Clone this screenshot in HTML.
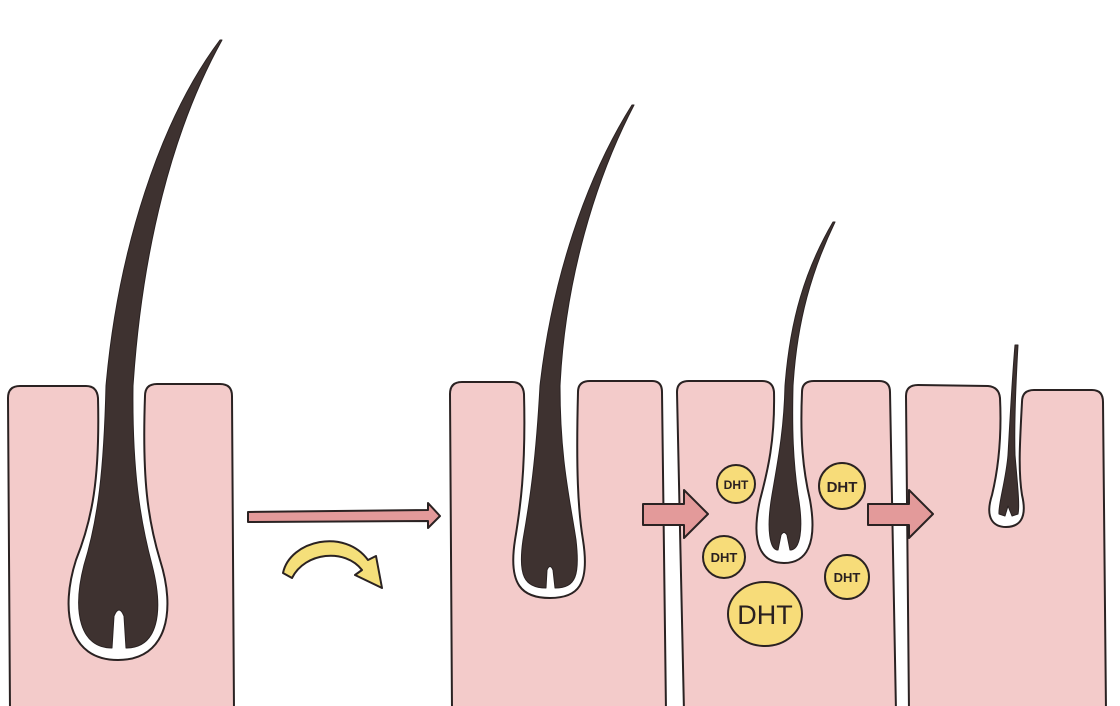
<!DOCTYPE html>
<html><head><meta charset="utf-8"><style>
html,body{margin:0;padding:0;background:#fff;}
svg{display:block}
text{font-family:"Liberation Sans",sans-serif;fill:#2a2020}
</style></head><body>
<svg width="1120" height="706" viewBox="0 0 1120 706" xmlns="http://www.w3.org/2000/svg">
<g stroke="#2a2222" stroke-width="2" stroke-linejoin="round">
<!-- panel 1 -->
<path d="M10,712 L8,398 Q8,386 20,386 L86,386 Q97,386 98,398 C100,480 92,520 76,560 C60,610 68,660 118,660 C168,660 176,610 160,560 C148,520 142,480 145,396 Q145,384 157,384 L220,384 Q232,384 232,396 L234,712 Z" fill="#f3cbca"/>
<path d="M220,40 C160,120 118,250 106,386 C104,470 98,520 84,565 C72,612 80,648 112,648 L114,616 Q119,604 124,616 L126,648 C158,648 164,612 152,565 C140,520 132,470 133,386 C142,250 172,130 222,40 Z" fill="#3e3230" stroke-width="1"/>
<!-- long arrow -->
<path d="M248,512 L428,510 L428,503 L440,516 L428,528 L428,521 L248,522 Z" fill="#e39a9a"/>
<!-- yellow curved arrow -->
<path d="M283,573 C290,540 345,528 368,560 L376,556 L382,588 L355,575 L362,570 C345,548 305,552 292,578 Z" fill="#f5df7a"/>
<!-- panel 2 -->
<path d="M452,712 L450,394 Q450,382 462,382 L512,382 Q523,382 524,394 C526,470 520,510 515,540 C508,585 522,598 550,598 C578,598 590,585 583,540 C578,510 576,470 578,392 Q578,381 590,381 L652,381 Q662,381 662,392 L666,712 Z" fill="#f3cbca"/>
<path d="M632,105 C585,180 552,280 540,386 C536,460 530,500 523,540 C518,575 524,588 546,588 L547,570 Q550,563 553,570 L555,588 C576,588 580,575 576,540 C570,500 560,460 560,386 C565,280 595,180 634,105 Z" fill="#3e3230" stroke-width="1"/>
<!-- panel 3 -->
<path d="M684,712 L677,392 Q677,381 689,381 L762,381 Q773,381 774,392 C775,440 768,470 760,500 C750,545 762,563 784,563 C806,563 818,545 810,500 C803,470 800,440 802,392 Q802,381 814,381 L879,381 Q890,381 890,392 L896,712 Z" fill="#f3cbca"/>
<path d="M833,222 C805,270 790,320 785,386 C784,430 778,460 772,495 C766,530 770,550 778,550 L781,535 Q784,530 787,535 L790,550 C800,550 804,530 798,495 C793,460 792,430 793,386 C797,320 812,270 835,222 Z" fill="#3e3230" stroke-width="1"/>
<!-- panel 4 -->
<path d="M909,712 L906,396 Q906,385 918,385 L988,386 Q999,387 1000,398 C1002,440 998,470 992,495 C984,520 995,527 1006,527 C1018,527 1028,520 1022,495 C1018,470 1020,440 1022,402 Q1022,390 1034,390 L1092,390 Q1103,390 1103,402 L1106,712 Z" fill="#f3cbca"/>
<path d="M1015,345 C1012,380 1010,420 1008,455 C1006,480 998,505 999,514 L1005,516 L1008,506 L1012,516 L1018,514 C1020,505 1017,480 1015,455 C1014,420 1016,380 1018,345 Z" fill="#3e3230" stroke-width="1"/>
<!-- pink block arrows -->
<path d="M643,504 L684,504 L684,490 L708,514 L684,538 L684,525 L643,525 Z" fill="#e39a9a"/>
<path d="M868,504 L909,504 L909,490 L933,514 L909,538 L909,525 L868,525 Z" fill="#e39a9a"/>
<!-- DHT circles -->
<g fill="#f7dc79">
<circle cx="736" cy="484" r="19"/><circle cx="842" cy="486" r="23"/><circle cx="724" cy="557" r="21"/><circle cx="847" cy="577" r="22"/><ellipse cx="765" cy="614" rx="37" ry="32"/>
</g>
</g>
<g font-weight="bold" text-anchor="middle">
<text x="736" y="489" font-size="12">DHT</text>
<text x="842" y="492" font-size="15">DHT</text>
<text x="724" y="562" font-size="13">DHT</text>
<text x="847" y="582" font-size="13">DHT</text>
<text x="765" y="624" font-size="27" font-weight="normal">DHT</text>
</g>
</svg>
</body></html>
